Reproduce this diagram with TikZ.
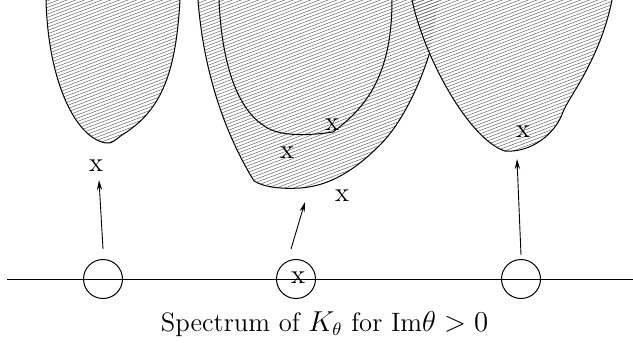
\documentclass[tikz,border=0pt]{standalone}
\usetikzlibrary{arrows.meta}
\begin{document}
\begin{tikzpicture}[x=0.5pt,y=-0.5pt,
  outline/.style={line width=0.5pt},
  hatchline/.style={line width=0.25pt,draw=black!60},
  xlabel/.style={font=\fontsize{13.5}{16}\selectfont,inner sep=0pt},
  ring/.style={draw,circle,line width=0.5pt,minimum size=19.5pt,inner sep=0pt},
  arr/.style={line width=0.45pt,-{Stealth[length=5pt,width=2.6pt]}}]
\useasboundingbox (0,0) rectangle (633,343);
\clip (0,0) rectangle (633,343);

\def\blobA{(45.5,-6) -- (46,0) .. controls (48,80) and (75,138) .. (106,143) .. controls (112,144) and (115,140) .. (122,135) .. controls (163,110) and (176,70) .. (180,0) -- (180.5,-6)}
\def\blobB{(197.5,-6) -- (198,0) .. controls (205,90) and (235,150) .. (254,181) .. controls (265,188) and (285,189) .. (300,188) .. controls (330,186) and (355,170) .. (380,145) .. controls (400,125) and (418,90) .. (429.6,53.1)}
\def\blobBclose{ -- (440,-6) -- cycle}
\def\blobC{(219,-6) -- (219,0) .. controls (222,70) and (240,110) .. (263,125) .. controls (275,135) and (300,137) .. (333,132) .. controls (370,105) and (392,70) .. (392,0) -- (392,-6)}
\def\blobR{(411,-6) -- (412,0) .. controls (425,60) and (470,140) .. (505,151) .. controls (530,153) and (555,135) .. (563,112) .. controls (568,98) and (600,60) .. (612,0) -- (613,-6)}

% hatching
\foreach \blob in {\blobA -- cycle,\blobB\blobBclose,\blobR -- cycle}{
  \begin{scope}
    \clip \blob;
    \foreach \k in {0,3.3,...,560}{
      \draw[hatchline] (-20,\k) -- (650,\k-254);
    }
  \end{scope}
}

% outlines
\draw[outline] \blobA;
\draw[outline] \blobB;
\draw[outline] \blobC;
\draw[outline] \blobR;

% axis and circles
\coordinate (L) at (7,279);
\coordinate (Rt) at (633,279);
\draw[outline] (L) -- (Rt);
\node[ring] (c1) at (103,279) {};
\node[ring] (c2) at (296,279) {};
\node[ring] (c3) at (521,279) {};
\node[xlabel] (xc) at (298,278) {x};

% marks
\node[xlabel] (xa) at (96,166) {x};
\node[xlabel] (xb1) at (332,125) {x};
\node[xlabel] (xb2) at (287,153) {x};
\node[xlabel] (xb3) at (342,196) {x};
\node[xlabel] (xr) at (523,132) {x};

% arrows
\coordinate (ta) at (99,180);
\coordinate (tb) at (305,202);
\coordinate (tr) at (517,159);
\draw[arr] (c1.north) ++(0,-10) coordinate (sa) -- (ta);
\draw[arr] (c2.north) ++(-5,-10) coordinate (sb) -- (tb);
\draw[arr] (c3.north) ++(0,-4) coordinate (sr) -- (tr);

% caption
\node[anchor=base,inner sep=0pt,font=\fontsize{13.3}{16}\selectfont] (cap) at (324.5,331) {Spectrum of $K_\theta$ for Im$\theta>0$};
\end{tikzpicture}
\end{document}
